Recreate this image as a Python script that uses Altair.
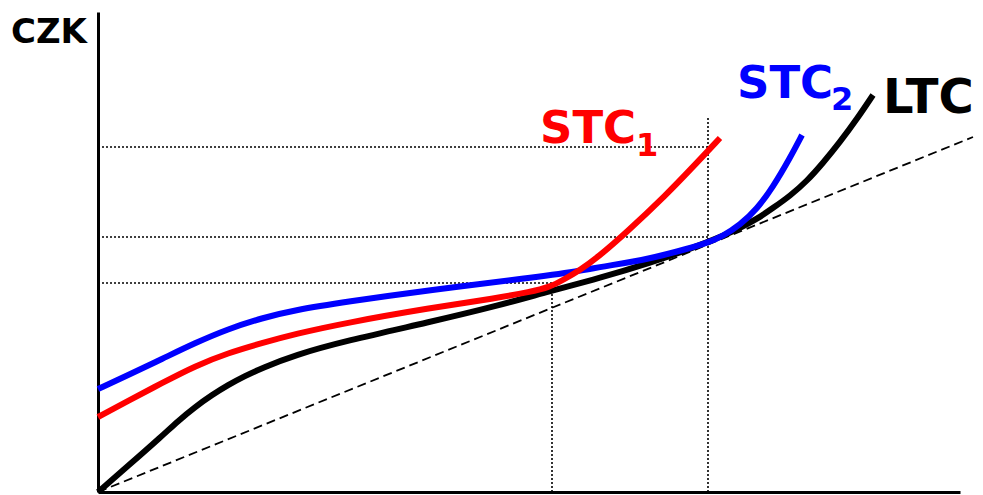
import altair as alt
import pandas as pd

# LTC (long-run total cost)
q_ltc = [0, 30, 64, 80, 97, 114, 130, 147, 164, 197, 247, 332, 399, 452, 502, 552, 592, 625, 642, 659, 675, 692, 709, 725, 742, 759, 775]
c_ltc = [0, 26, 56, 71, 85, 97, 107, 116, 124, 137, 151, 170, 186, 201, 214, 229, 243, 256, 264, 273, 284, 296, 311, 329, 350, 373, 397]

# STC1
q_stc1 = [0, 30, 64, 97, 130, 164, 197, 247, 332, 399, 432, 452, 465, 482, 499, 529, 569, 592, 622]
c_stc1 = [75, 91, 109, 126, 139, 149, 158, 169, 184, 194, 200, 205, 212, 222, 234, 260, 298, 322, 354]

# STC2
q_stc2 = [0, 30, 64, 97, 130, 164, 197, 247, 332, 432, 482, 502, 552, 592, 609, 625, 642, 659, 675, 692, 704]
c_stc2 = [103, 117, 133, 149, 163, 174, 182, 190, 202, 214, 221, 225, 233, 244, 249, 256, 267, 283, 305, 334, 357]

# ray from origin
q_ray = [0, 875]
c_ray = [0, 355]

# dotted guide segments
g_x = [0, 0, 0, 454, 610]
g_x2 = [610, 610, 454, 454, 610]
g_y = [345, 255, 209, 0, 0]
g_y2 = [345, 255, 209, 209, 374]

sx = alt.Scale(domain=[0, 862], nice=False, zero=False)
sy = alt.Scale(domain=[0, 480], nice=False, zero=False)
ax_x = alt.Axis(labels=False, ticks=False, grid=False, title=None, domainWidth=3, domainColor="black")
ax_y = alt.Axis(labels=False, ticks=False, grid=False, title=None, domainWidth=3, domainColor="black")


def X(f="x"):
    return alt.X(f"{f}:Q", scale=sx, axis=ax_x)


def Y(f="y"):
    return alt.Y(f"{f}:Q", scale=sy, axis=ax_y)


df_ltc = pd.DataFrame({"x": q_ltc, "y": c_ltc})
df_s1 = pd.DataFrame({"x": q_stc1, "y": c_stc1})
df_s2 = pd.DataFrame({"x": q_stc2, "y": c_stc2})
df_ray = pd.DataFrame({"x": q_ray, "y": c_ray})
df_g = pd.DataFrame({"x": g_x, "x2": g_x2, "y": g_y, "y2": g_y2})

guides = alt.Chart(df_g).mark_rule(color="black", strokeWidth=1.6, strokeDash=[2, 2]).encode(
    x=X(), x2="x2:Q", y=Y(), y2="y2:Q"
)
ray = alt.Chart(df_ray).mark_line(color="black", strokeWidth=1.8, strokeDash=[9, 5]).encode(x=X(), y=Y())
ltc = alt.Chart(df_ltc).mark_line(color="black", strokeWidth=6, interpolate="basis").encode(x=X(), y=Y())
stc2 = alt.Chart(df_s2).mark_line(color="#0000ff", strokeWidth=6, interpolate="basis").encode(x=X(), y=Y())
stc1 = alt.Chart(df_s1).mark_line(color="#ff0000", strokeWidth=6, interpolate="basis").encode(x=X(), y=Y())

lbl_text = ["STC", "1", "STC", "2", "LTC", "CZK"]
lbl_x = [442, 538, 639, 733, 785, -87]
lbl_y = [349, 336, 394, 382, 379, 449]
lbl_size = [45, 32, 45, 32, 48, 34]
lbl_color = ["#ff0000", "#ff0000", "#0000ff", "#0000ff", "black", "black"]
df_l = pd.DataFrame({"t": lbl_text, "x": lbl_x, "y": lbl_y, "s": lbl_size, "c": lbl_color})

labels = alt.Chart(df_l).mark_text(
    align="left", baseline="alphabetic", font="DejaVu Sans", fontWeight="bold"
).encode(
    x=X(), y=Y(), text="t:N",
    size=alt.Size("s:Q", scale=None, legend=None),
    color=alt.Color("c:N", scale=None, legend=None),
)

chart = alt.layer(guides, ray, ltc, stc2, stc1, labels).properties(
    width=862, height=480,
    autosize=alt.AutoSizeParams(type="none"),
    padding={"left": 90, "top": 4, "right": 14, "bottom": 3},
    background="white",
).configure_view(stroke=None)

chart.save("out.html", embed_options={"renderer": "svg", "actions": False})
